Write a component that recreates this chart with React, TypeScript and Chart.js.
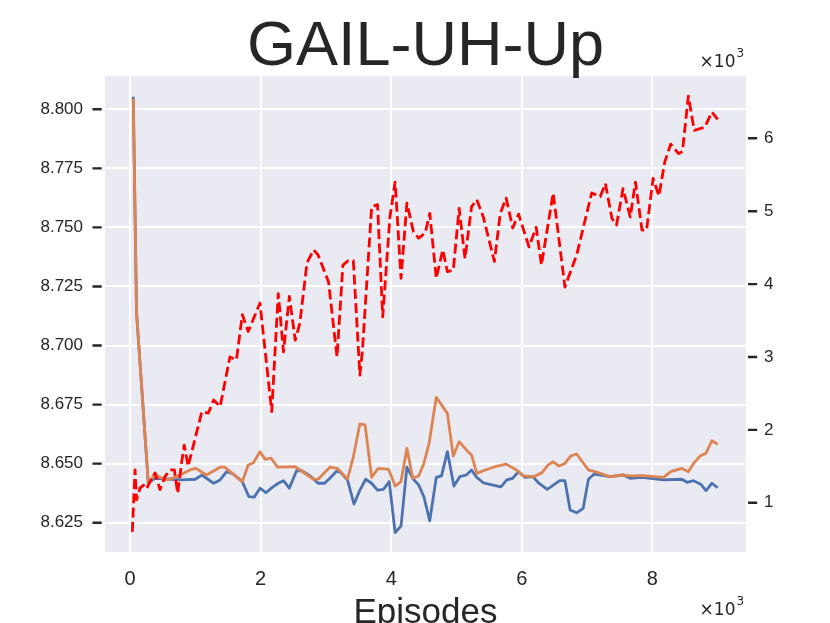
import { useEffect, useRef } from "react";
import { Chart, registerables } from "chart.js";

Chart.register(...registerables);

const chartTitle = "GAIL-UH-Up";
const xAxisLabel = "Episodes";

const xTickValues = [0, 2000, 4000, 6000, 8000];
const leftTickValues = [8.625, 8.65, 8.675, 8.7, 8.725, 8.75, 8.775, 8.8];
const rightTickValues = [1000, 2000, 3000, 4000, 5000, 6000];

const blueEpisodes = [
  50, 100, 280, 380, 640, 790, 1000, 1100, 1280, 1380, 1480, 1580, 1720, 1820, 1900, 1990, 2080, 2190,
  2270, 2350, 2440, 2550, 2630, 2760, 2880, 2980, 3060, 3170, 3240, 3330, 3430, 3520, 3610, 3700, 3790,
  3880, 3970, 4060, 4150, 4240, 4340, 4420, 4500, 4590, 4690, 4770, 4860, 4960, 5050, 5150, 5230, 5310,
  5410, 5680, 5770, 5860, 5950, 6050, 6170, 6250, 6390, 6580, 6660, 6740, 6840, 6940, 7020, 7110, 7350,
  7550, 7660, 7840, 8170, 8450, 8530, 8630, 8740, 8820, 8910, 9000,
];
const blueValues = [
  8.8053, 8.714, 8.6417, 8.6438, 8.6434, 8.6431, 8.6434, 8.6452, 8.6417, 8.6431, 8.6466, 8.6456, 8.6424,
  8.636, 8.6358, 8.6396, 8.6377, 8.6402, 8.6417, 8.6428, 8.6396, 8.647, 8.647, 8.6448, 8.6417, 8.6417,
  8.6438, 8.647, 8.6459, 8.6431, 8.6329, 8.6388, 8.6434, 8.6417, 8.6388, 8.6391, 8.6424, 8.6208, 8.6236,
  8.6485, 8.6434, 8.641, 8.636, 8.6258, 8.6442, 8.6448, 8.6551, 8.6405, 8.6445, 8.6452, 8.6473, 8.6442,
  8.6419, 8.6402, 8.6431, 8.6438, 8.6466, 8.6442, 8.6445, 8.642, 8.6391, 8.6428, 8.6428, 8.6304, 8.6292,
  8.6311, 8.6434, 8.6456, 8.6445, 8.6452, 8.6438, 8.6442, 8.6431, 8.6434, 8.6421, 8.6428, 8.6413, 8.6386,
  8.6417, 8.6398,
];

const orangeEpisodes = [
  50, 100, 280, 380, 460, 560, 690, 820, 940, 1010, 1170, 1380, 1450, 1720, 1810, 1890, 1990, 2070, 2160,
  2260, 2530, 2810, 2880, 3060, 3170, 3240, 3330, 3420, 3520, 3600, 3700, 3800, 3960, 4060, 4150, 4240,
  4330, 4420, 4500, 4580, 4690, 4860, 4950, 5040, 5150, 5230, 5310, 5440, 5590, 5760, 5920, 6020, 6180,
  6310, 6400, 6480, 6570, 6660, 6750, 6840, 7020, 7120, 7350, 7550, 7660, 7840, 8170, 8280, 8450, 8550,
  8630, 8730, 8820, 8910, 9000,
];
const orangeValues = [
  8.8045, 8.714, 8.6417, 8.6456, 8.6442, 8.6431, 8.6442, 8.6459, 8.6476, 8.648, 8.6452, 8.6485, 8.6485,
  8.6424, 8.6494, 8.6504, 8.6551, 8.6518, 8.6523, 8.6485, 8.6487, 8.6434, 8.6434, 8.6485, 8.648, 8.6462,
  8.6434, 8.6529, 8.6668, 8.6664, 8.6442, 8.648, 8.6476, 8.6405, 8.6424, 8.6565, 8.6438, 8.6448, 8.6501,
  8.6586, 8.6781, 8.6713, 8.6532, 8.6593, 8.6558, 8.6537, 8.6459, 8.6473, 8.6487, 8.6498, 8.6473, 8.6448,
  8.6445, 8.6462, 8.6494, 8.6508, 8.649, 8.6501, 8.6533, 8.6541, 8.6473, 8.6466, 8.6445, 8.6452, 8.6448,
  8.6449, 8.6442, 8.6466, 8.648, 8.6466, 8.6501, 8.6532, 8.6544, 8.6597, 8.6582,
];

const redEpisodes = [
  35, 77, 100, 153, 204, 255, 306, 383, 459, 536, 613, 679, 730, 790, 830, 890, 1100, 1200, 1280, 1380,
  1530, 1630, 1720, 1810, 1990, 2170, 2270, 2350, 2440, 2530, 2600, 2710, 2810, 2880, 3040, 3170, 3260,
  3340, 3420, 3520, 3560, 3700, 3790, 3870, 3980, 4060, 4150, 4240, 4340, 4420, 4520, 4590, 4690, 4790,
  4860, 4950, 5040, 5130, 5230, 5310, 5410, 5580, 5670, 5760, 5860, 5950, 6110, 6220, 6300, 6480, 6660,
  6840, 7070, 7200, 7280, 7380, 7450, 7550, 7660, 7740, 7840, 7910, 8010, 8100, 8190, 8280, 8400, 8460,
  8550, 8640, 8800, 8910, 9000,
];
const redValues = [
  600, 1450, 1040, 1200, 1240, 1190, 1290, 1410, 1180, 1360, 1450, 1450, 1130, 1550, 1790, 1500, 2250,
  2230, 2410, 2320, 3000, 2960, 3580, 3350, 3740, 2250, 3870, 3070, 3830, 3230, 3460, 4290, 4470, 4400,
  4030, 3000, 4260, 4320, 4320, 2750, 3100, 5060, 5090, 3550, 4920, 5400, 4080, 5110, 4720, 4630, 4700,
  4970, 4080, 4470, 4170, 4190, 5040, 4350, 5060, 5160, 4920, 4310, 4970, 5180, 4770, 4960, 4510, 4780,
  4260, 5250, 3960, 4400, 5250, 5200, 5380, 4900, 4810, 5310, 4920, 5400, 4740, 4740, 5450, 5210, 5680,
  5920, 5790, 5820, 6580, 6110, 6150, 6360, 6260,
];

const TEXT = "#262626";
const SANS = '"Liberation Sans", Arial, sans-serif';
const MATH = '"DejaVu Sans", sans-serif';

const pts = (xs: number[], ys: number[]) => xs.map((x, i) => ({ x, y: ys[i] }));

const decorPlugin = {
  id: "decor",
  beforeDraw(chart: any) {
    const { ctx, chartArea: a } = chart;
    ctx.save();
    ctx.fillStyle = "#EAEAF2";
    ctx.fillRect(a.left, a.top, a.right - a.left, a.bottom - a.top);
    ctx.restore();
  },
  afterDraw(chart: any) {
    const { ctx, chartArea: a } = chart;
    const yl = chart.scales.yL;
    const yr = chart.scales.yR;
    ctx.save();
    ctx.strokeStyle = TEXT;
    ctx.lineWidth = 2.4;
    ctx.beginPath();
    yl.ticks.forEach((t: any) => {
      const y = yl.getPixelForValue(t.value);
      ctx.moveTo(a.left - 12.5, y);
      ctx.lineTo(a.left - 3.3, y);
    });
    yr.ticks.forEach((t: any) => {
      const y = yr.getPixelForValue(t.value);
      ctx.moveTo(a.right + 2, y);
      ctx.lineTo(a.right + 11.2, y);
    });
    ctx.stroke();

    ctx.fillStyle = TEXT;
    const cx = (a.left + a.right) / 2;
    ctx.textAlign = "center";
    ctx.textBaseline = "alphabetic";
    ctx.font = `63px ${SANS}`;
    ctx.fillText(chartTitle, cx, 65);
    ctx.font = `35px ${SANS}`;
    ctx.fillText(xAxisLabel, cx, 623);

    const offsetText = (baseline: number) => {
      ctx.textAlign = "right";
      ctx.font = `17px ${MATH}`;
      ctx.fillText("\u00d710", a.right - 10.5, baseline);
      ctx.textAlign = "left";
      ctx.font = `12px ${MATH}`;
      ctx.fillText("3", a.right - 9.5, baseline - 10.5);
    };
    offsetText(67.3);
    offsetText(615);
    ctx.restore();
  },
};

export default function App() {
  const ref = useRef<HTMLCanvasElement | null>(null);
  useEffect(() => {
    if (!ref.current) return;
    const chart = new Chart(ref.current, {
      type: "line",
      data: {
        datasets: [
          {
            label: "red",
            data: pts(redEpisodes, redValues),
            yAxisID: "yR",
            borderColor: "#FF0000",
            borderWidth: 2.8,
            borderDash: [10, 4.3],
            borderJoinStyle: "round",
            pointRadius: 0,
            tension: 0,
            order: 0,
          },
          {
            label: "orange",
            data: pts(orangeEpisodes, orangeValues),
            yAxisID: "yL",
            borderColor: "#DD8452",
            borderWidth: 2.8,
            borderJoinStyle: "round",
            pointRadius: 0,
            tension: 0,
            order: 1,
          },
          {
            label: "blue",
            data: pts(blueEpisodes, blueValues),
            yAxisID: "yL",
            borderColor: "#4C72B0",
            borderWidth: 2.8,
            borderJoinStyle: "round",
            pointRadius: 0,
            tension: 0,
            order: 2,
          },
        ],
      },
      options: {
        animation: false,
        responsive: false,
        devicePixelRatio: 1,
        layout: { padding: { top: 76, left: 0, right: 0, bottom: 0 } },
        plugins: { legend: { display: false }, tooltip: { enabled: false }, title: { display: false } },
        events: [],
        scales: {
          x: {
            type: "linear",
            position: "bottom",
            min: -383,
            max: 9433,
            afterBuildTicks: (s: any) => {
              s.ticks = xTickValues.map((v) => ({ value: v }));
            },
            afterFit: (s: any) => {
              s.height = 71;
            },
            ticks: {
              padding: 15,
              color: TEXT,
              font: { family: SANS, size: 20 },
              callback: (v: any) => String(Number(v) / 1000),
              maxRotation: 0,
            },
            grid: { color: "#FFFFFF", lineWidth: 2, drawTicks: false },
            border: { display: false },
          },
          yL: {
            type: "linear",
            position: "left",
            min: 8.6126,
            max: 8.8141,
            afterBuildTicks: (s: any) => {
              s.ticks = leftTickValues.map((v) => ({ value: v }));
            },
            afterFit: (s: any) => {
              s.width = 105;
            },
            ticks: {
              padding: 22,
              color: TEXT,
              font: { family: SANS, size: 17 },
              callback: (v: any) => Number(v).toFixed(3),
            },
            grid: { color: "#FFFFFF", lineWidth: 2, drawTicks: false },
            border: { display: false },
          },
          yR: {
            type: "linear",
            position: "right",
            min: 324,
            max: 6855,
            afterBuildTicks: (s: any) => {
              s.ticks = rightTickValues.map((v) => ({ value: v }));
            },
            afterFit: (s: any) => {
              s.width = 84;
            },
            ticks: {
              padding: 18,
              color: TEXT,
              font: { family: SANS, size: 17 },
              callback: (v: any) => String(Number(v) / 1000),
            },
            grid: { display: false, drawTicks: false },
            border: { display: false },
          },
        },
      },
      plugins: [decorPlugin],
    });
    return () => chart.destroy();
  }, []);
  return (
    <div style={{ position: "absolute", left: 0, top: 0, width: 830, height: 623 }}>
      <canvas ref={ref} width={830} height={623} style={{ display: "block" }} />
    </div>
  );
}
